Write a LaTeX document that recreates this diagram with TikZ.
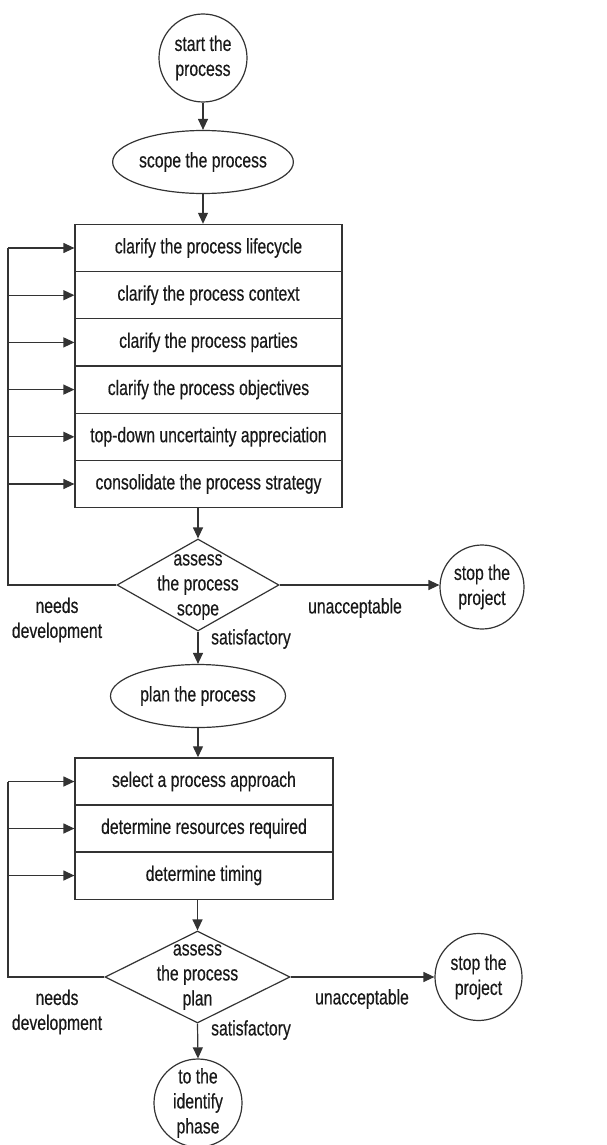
\documentclass[tikz,border=0pt]{standalone}
\usepackage{fontspec}
\setmainfont{Liberation Sans}[FakeStretch=0.75,FakeBold=0.4]
\usetikzlibrary{shapes.geometric,arrows.meta}
\begin{document}
\begin{tikzpicture}[x=1pt,y=-1pt,
  line/.style={draw=black!80, line width=1.2pt},
  arr/.style={line, -{Triangle[length=11pt,width=10pt]}},
  txt/.style={font=\fontsize{21}{25}\selectfont, align=center, inner sep=0pt, text=black!90},
  terminal/.style={circle, line, txt, minimum size=88pt},
  stage/.style={ellipse, line, txt, minimum width=175pt, minimum height=63pt},
  row/.style={rectangle, line, txt, minimum height=47.2pt},
  decision/.style={diamond, line, minimum height=92pt, inner sep=0pt},
]
\useasboundingbox (0,0) rectangle (606,1145);

% --- scoping stage ---
\node[terminal] (start) at (203,58) {start the\\process};
\node[stage] (scope) at (203,162) {scope the process};

\node[row, minimum width=267pt] (r1) at (208.5,248) {clarify the process lifecycle};
\node[row, minimum width=267pt] (r2) at (208.5,295.2) {clarify the process context};
\node[row, minimum width=267pt] (r3) at (208.5,342.4) {clarify the process parties};
\node[row, minimum width=267pt] (r4) at (208.5,389.6) {clarify the process objectives};
\node[row, minimum width=267pt] (r5) at (208.5,436.8) {top-down uncertainty appreciation};
\node[row, minimum width=267pt] (r6) at (208.5,484) {consolidate the process strategy};

\node[decision, minimum width=162pt] (d1) at (198,585) {};
\node[txt] (d1t) at (198,587) {assess\\the process\\scope};
\node[terminal, minimum size=84pt] (stop1) at (482,587) {stop the\\project};

\node[txt] (nd1) at (57,620) {needs\\development};
\node[txt] (un1) at (355,608) {unacceptable};
\node[txt] (sa1) at (251,639) {satisfactory};

% --- planning stage ---
\node[stage] (plan) at (198,696) {plan the process};

\node[row, minimum width=258pt] (p1) at (204,781.5) {select a process approach};
\node[row, minimum width=258pt] (p2) at (204,828.5) {determine resources required};
\node[row, minimum width=258pt] (p3) at (204,875.5) {determine timing};

\node[decision, minimum width=185pt] (d2) at (197.5,977) {};
\node[txt] (d2t) at (197.5,977) {assess\\the process\\plan};
\node[terminal, minimum size=87pt] (stop2) at (478.5,977) {stop the\\project};

\node[txt] (nd2) at (57,1012) {needs\\development};
\node[txt] (un2) at (362,999) {unacceptable};
\node[txt] (sa2) at (251,1030) {satisfactory};

\node[terminal] (endn) at (198,1103) {to the\\identify\\phase};

% --- feedback rails ---
\coordinate (fb1) at (8,248);
\coordinate (fb2) at (8,781.5);

% --- connectors ---
\draw[arr] (start.south) -- (start.south |- scope.north);
\draw[arr] (scope.south) -- (scope.south |- r1.north);
\draw[arr] (r6.south -| d1.north) -- (d1.north);
\draw[line] (d1.west) -| (fb1);
\foreach \r in {r1,r2,r3,r4,r5,r6}
  \draw[arr] (fb1 |- \r.west) -- (\r.west);
\draw[arr] (d1.east) -- (d1.east -| stop1.west);
\draw[arr] (d1.south) -- (plan.north);

\draw[arr] (plan.south) -- (plan.south |- p1.north);
\draw[arr] (p3.south -| d2.north) -- (d2.north);
\draw[line] (d2.west) -| (fb2);
\foreach \r in {p1,p2,p3}
  \draw[arr] (fb2 |- \r.west) -- (\r.west);
\draw[arr] (d2.east) -- (stop2.west);
\draw[arr] (d2.south) -- (endn.north);
\end{tikzpicture}
\end{document}
